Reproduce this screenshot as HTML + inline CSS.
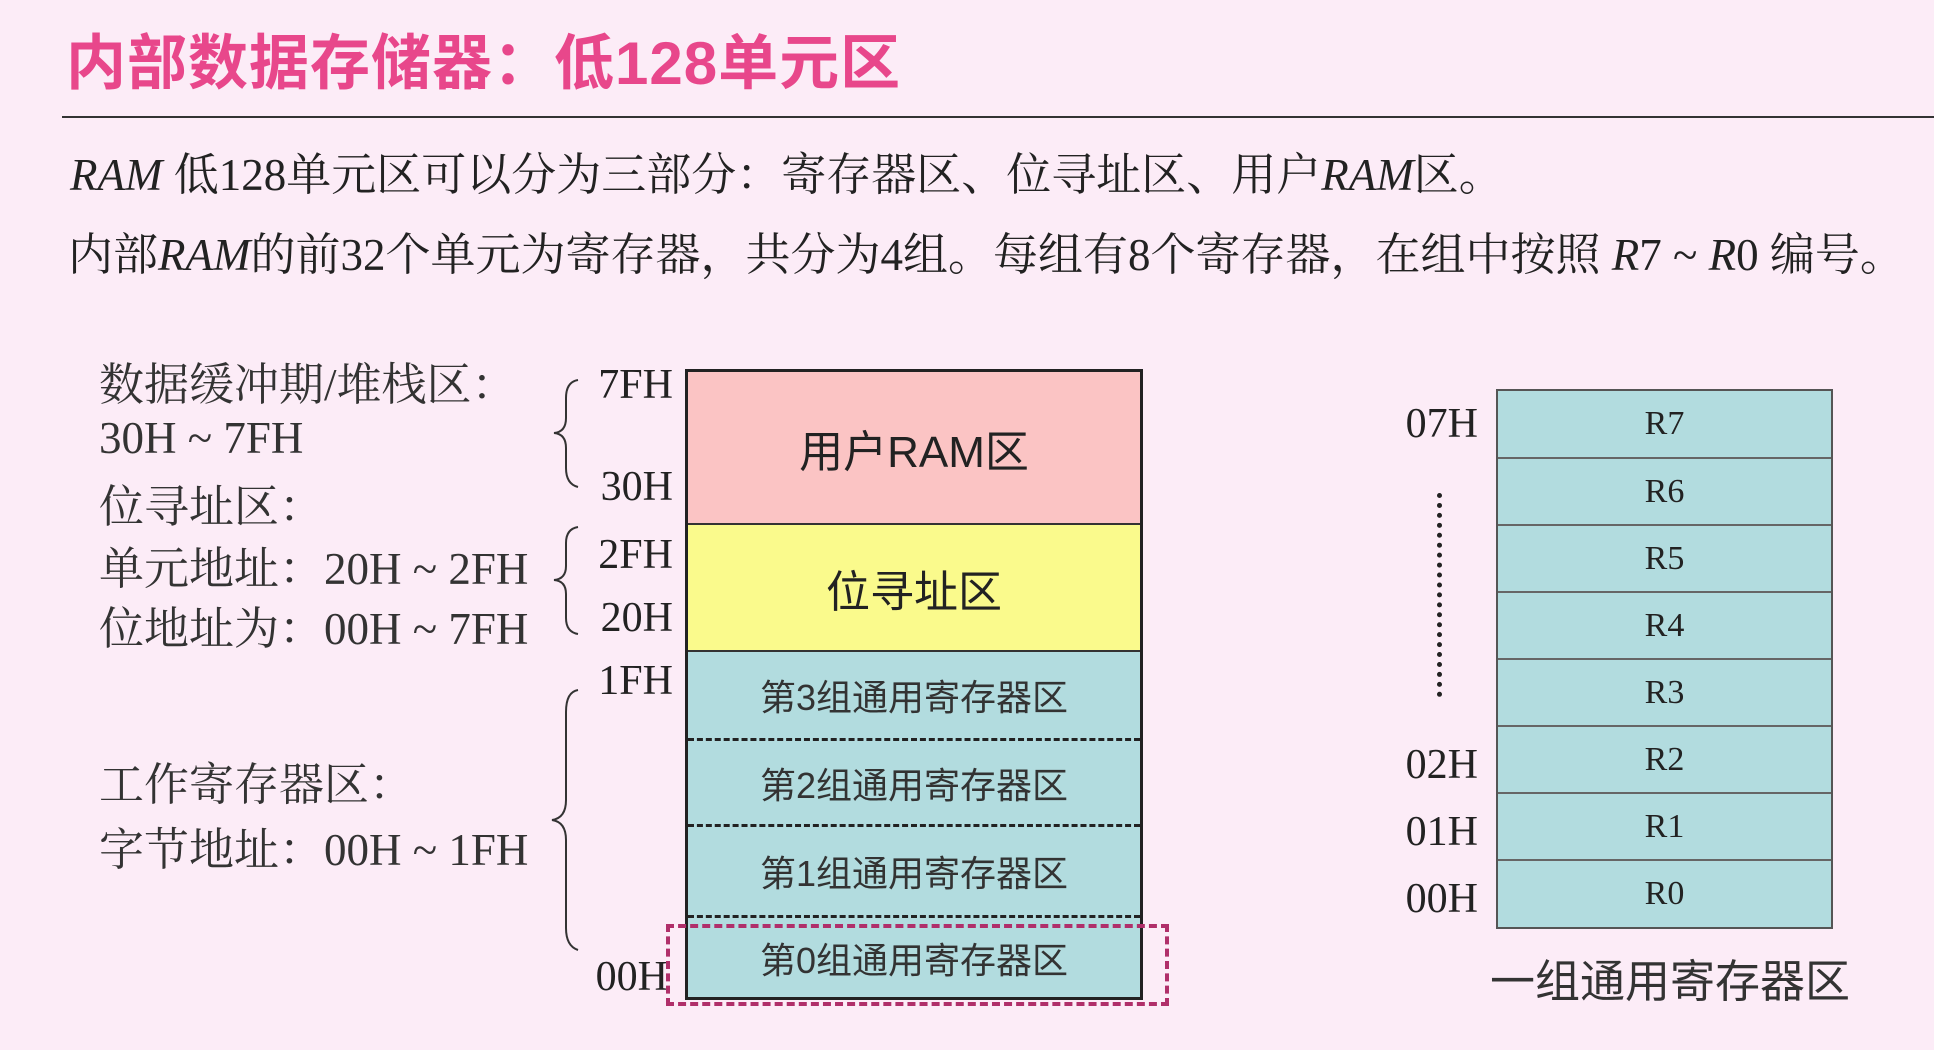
<!DOCTYPE html>
<html><head><meta charset="utf-8"><style>
body{margin:0;width:1934px;height:1050px;background:#fcecf7;position:relative;overflow:hidden;font-family:"Liberation Serif","Noto Serif CJK SC","Noto Sans CJK SC",serif;color:#222}
.a{position:absolute;white-space:nowrap}
.s{font-family:"Liberation Sans","Noto Sans CJK SC",sans-serif}
.lbl{font-size:45px;color:#333;line-height:1}
.addr{font-size:42px;color:#222;line-height:1;text-align:right;width:100px}
.cell{position:absolute;left:0;right:0;display:flex;align-items:center;justify-content:center}
</style></head><body>
<div class="a s" style="left:66px;top:28px;font-size:60px;font-weight:bold;color:#e8478b;letter-spacing:1px;line-height:72px">内部数据存储器：低128单元区</div>
<div class="a" style="left:62px;top:116px;width:1872px;height:2px;background:#333"></div>
<div class="a" style="left:70px;top:150px;font-size:45px;line-height:50px;color:#222"><i>RAM</i> 低128单元区可以分为三部分：寄存器区、位寻址区、用户<i>RAM</i>区。</div>
<div class="a" style="left:68px;top:230px;font-size:45px;line-height:50px;color:#222">内部<i>RAM</i>的前32个单元为寄存器，共分为4组。每组有8个寄存器，在组中按照 <i>R</i>7 ~ <i>R</i>0 编号。</div>

<div class="a lbl" style="left:99px;top:363px">数据缓冲期/堆栈区：</div>
<div class="a lbl" style="left:99px;top:416px">30H ~ 7FH</div>
<div class="a lbl" style="left:99px;top:485px">位寻址区：</div>
<div class="a lbl" style="left:99px;top:547px">单元地址：20H ~ 2FH</div>
<div class="a lbl" style="left:99px;top:607px">位地址为：00H ~ 7FH</div>
<div class="a lbl" style="left:99px;top:763px">工作寄存器区：</div>
<div class="a lbl" style="left:99px;top:828px">字节地址：00H ~ 1FH</div>

<svg class="a" style="left:0;top:0" width="1934" height="1050">
<g fill="none" stroke="#333" stroke-width="2">
<path d="M578,380 Q566,382 566,398 L566,418 Q566,432 554,433 Q566,434 566,448 L566,468 Q566,484 578,487"/>
<path d="M578,527 Q566,529 566,543 L566,566 Q566,579 554,580 Q566,581 566,594 L566,618 Q566,632 578,634"/>
<path d="M578,690 Q566,692 566,712 L566,800 Q566,818 552,820 Q566,822 566,840 L566,928 Q566,946 578,950"/>
</g>
</svg>
<div class="a addr" style="left:573px;top:364px">7FH</div>
<div class="a addr" style="left:573px;top:466px">30H</div>
<div class="a addr" style="left:573px;top:534px">2FH</div>
<div class="a addr" style="left:573px;top:597px">20H</div>
<div class="a addr" style="left:573px;top:660px">1FH</div>
<div class="a addr" style="left:573px;top:956px;width:95px">00H</div>

<div class="a" style="left:685px;top:369px;width:458px;height:631px;border:3px solid #222;box-sizing:border-box;background:#b2dcdf">
 <div class="cell s" style="top:0;height:151px;background:#fbc4c4;border-bottom:2px solid #333;font-size:44px">用户RAM区</div>
 <div class="cell s" style="top:153px;height:125px;background:#fafa8c;border-bottom:2px solid #333;font-size:44px">位寻址区</div>
 <div class="cell s" style="top:280px;height:86px;border-bottom:3px dashed #222;font-size:36px;color:#333">第3组通用寄存器区</div>
 <div class="cell s" style="top:369px;height:83px;border-bottom:3px dashed #222;font-size:36px;color:#333">第2组通用寄存器区</div>
 <div class="cell s" style="top:455px;height:88px;border-bottom:3px dashed #222;font-size:36px;color:#333">第1组通用寄存器区</div>
 <div class="cell s" style="top:546px;height:79px;font-size:36px;color:#333">第0组通用寄存器区</div>
</div>
<div class="a" style="left:666px;top:924px;width:503px;height:82px;border:4px dashed #b02f6a;box-sizing:border-box"></div>

<div class="a" style="left:1496px;top:389px;width:337px;height:540px;border:2px solid #555;box-sizing:border-box;background:#b2dcdf">
 <div class="cell" style="top:0;height:66px;border-bottom:2px solid #666;font-size:34px">R7</div>
 <div class="cell" style="top:68px;height:65px;border-bottom:2px solid #666;font-size:34px">R6</div>
 <div class="cell" style="top:135px;height:65px;border-bottom:2px solid #666;font-size:34px">R5</div>
 <div class="cell" style="top:202px;height:65px;border-bottom:2px solid #666;font-size:34px">R4</div>
 <div class="cell" style="top:269px;height:65px;border-bottom:2px solid #666;font-size:34px">R3</div>
 <div class="cell" style="top:336px;height:65px;border-bottom:2px solid #666;font-size:34px">R2</div>
 <div class="cell" style="top:403px;height:65px;border-bottom:2px solid #666;font-size:34px">R1</div>
 <div class="cell" style="top:470px;height:66px;font-size:34px">R0</div>
</div>
<div class="a addr" style="left:1378px;top:403px">07H</div>
<div class="a addr" style="left:1378px;top:744px">02H</div>
<div class="a addr" style="left:1378px;top:811px">01H</div>
<div class="a addr" style="left:1378px;top:878px">00H</div>
<div class="a" style="left:1437px;top:493px;width:0;height:204px;border-left:5px dotted #222"></div>
<div class="a s" style="left:1490px;top:956px;font-size:45px;color:#333;line-height:52px">一组通用寄存器区</div>
</body></html>
